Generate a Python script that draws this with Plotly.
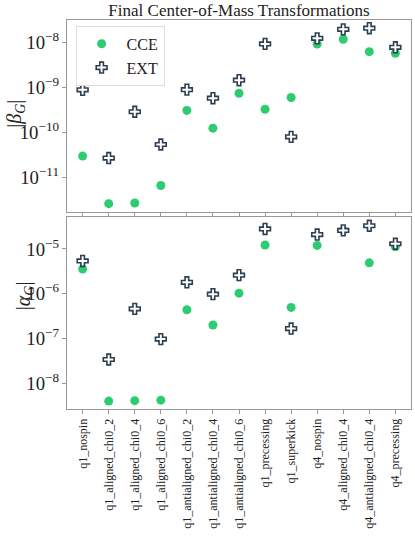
import plotly.graph_objects as go
from plotly.subplots import make_subplots

categories = ["q1_nospin", "q1_aligned_chi0_2", "q1_aligned_chi0_4", "q1_aligned_chi0_6",
              "q1_antialigned_chi0_2", "q1_antialigned_chi0_4", "q1_antialigned_chi0_6",
              "q1_precessing", "q1_superkick", "q4_nospin", "q4_aligned_chi0_4",
              "q4_antialigned_chi0_4", "q4_precessing"]

beta_cce = [2.98e-11, 2.6e-12, 2.7e-12, 6.6e-12, 3.1e-10, 1.25e-10, 7.5e-10,
            3.3e-10, 6.0e-10, 9.35e-9, 1.19e-8, 6.3e-9, 5.8e-9]
beta_ext = [8.9e-10, 2.7e-11, 2.9e-10, 5.4e-11, 9.0e-10, 5.8e-10, 1.46e-9,
            9.4e-9, 8.0e-11, 1.25e-8, 1.98e-8, 2.1e-8, 7.9e-9]
alpha_cce = [3.58e-6, 4.0e-9, 4.1e-9, 4.2e-9, 4.4e-7, 2.0e-7, 1.03e-6,
             1.23e-5, 4.95e-7, 1.2e-5, 2.6e-5, 4.9e-6, 1.12e-5]
alpha_ext = [5.4e-6, 3.4e-8, 4.6e-7, 9.7e-8, 1.8e-6, 9.8e-7, 2.6e-6,
             2.8e-5, 1.67e-7, 2.1e-5, 2.6e-5, 3.3e-5, 1.31e-5]

GREEN = "#2ecc71"
NAVY = "#2c3e50"
FONT = "Liberation Serif"

fig = make_subplots(rows=2, cols=1, shared_xaxes=True, vertical_spacing=0.0129)

cce_marker = dict(symbol="circle", size=9, color=GREEN, line=dict(width=0))
ext_marker = dict(symbol="cross", size=9, color="white", line=dict(width=1.6, color=NAVY))

fig.add_trace(go.Scatter(x=categories, y=beta_cce, mode="markers", name="CCE",
                         marker=cce_marker), row=1, col=1)
fig.add_trace(go.Scatter(x=categories, y=beta_ext, mode="markers", name="EXT",
                         marker=ext_marker), row=1, col=1)
fig.add_trace(go.Scatter(x=categories, y=alpha_cce, mode="markers", name="CCE",
                         marker=cce_marker, showlegend=False), row=2, col=1)
fig.add_trace(go.Scatter(x=categories, y=alpha_ext, mode="markers", name="EXT",
                         marker=ext_marker, showlegend=False), row=2, col=1)

axis_common = dict(showline=True, mirror=True, linecolor="#999999", linewidth=1,
                   showgrid=False, zeroline=False, ticks="outside", ticklen=4,
                   tickcolor="#999999", automargin=False,
                   tickfont=dict(family=FONT, size=15, color="#222"))

fig.update_xaxes(**axis_common, range=[-0.6, 12.6])
fig.update_xaxes(tickangle=-90, tickfont=dict(family=FONT, size=12, color="#222"), row=2, col=1)
fig.update_yaxes(**axis_common, type="log", exponentformat="power", dtick=1)
fig.update_yaxes(range=[-11.77, -7.495], row=1, col=1)
fig.update_yaxes(range=[-8.574, -4.286], row=2, col=1)

fig.add_annotation(text="|<i>β</i><sub><i>G</i></sub>|", xref="paper", yref="paper",
                   x=-0.15, y=0.76, xanchor="center", yanchor="middle", textangle=-90,
                   showarrow=False, font=dict(family=FONT, size=20, color="#222"))
fig.add_annotation(text="|<i>α</i><sub><i>G</i></sub>|", xref="paper", yref="paper",
                   x=-0.125, y=0.29, xanchor="center", yanchor="middle", textangle=-90,
                   showarrow=False, font=dict(family=FONT, size=20, color="#222"))

fig.update_layout(
    width=415, height=540,
    margin=dict(l=67, r=4, t=20, b=131),
    paper_bgcolor="white", plot_bgcolor="white",
    title=dict(text="Final Center-of-Mass Transformations", xref="paper", x=0.5, xanchor="center",
               yref="container", y=0.993, yanchor="top", font=dict(family=FONT, size=17, color="#222")),
    font=dict(family=FONT, color="#222"),
    legend=dict(x=0.025, y=0.985, xanchor="left", yanchor="top",
                bordercolor="#dddddd", borderwidth=1, bgcolor="white",
                font=dict(family=FONT, size=16, color="#222"), itemwidth=40),
)

fig.write_html("out.html", post_script="document.body.style.margin='0';",
               config={"displayModeBar": False})
